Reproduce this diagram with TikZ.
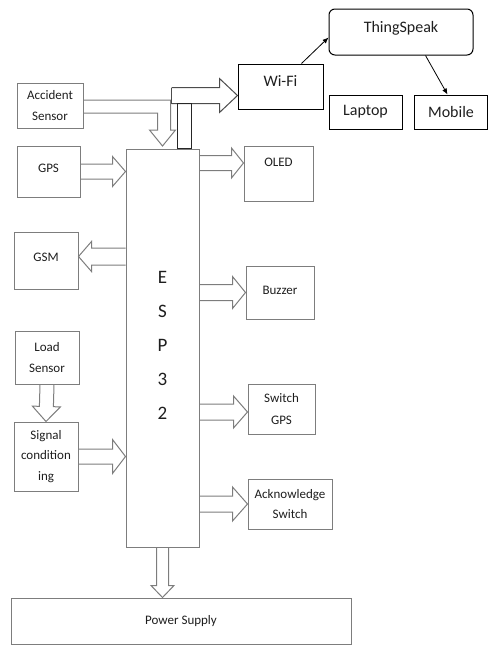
\documentclass[tikz,border=0pt]{standalone}
\usepackage{fontspec}
\setmainfont{Carlito}
\usetikzlibrary{calc,arrows.meta}
\definecolor{lg}{RGB}{125,125,125}
\definecolor{tx}{RGB}{30,30,30}
\newcommand\bw{7.5pt}
\newcommand\bh{15pt}
\newcommand\bl{13pt}
\tikzset{
  bsize/.code n args={3}{\def\bw{#1}\def\bh{#2}\def\bl{#3}},
  barrow/.style={to path={
    ($(\tikztostart)!\bw!90:(\tikztotarget)$)
    -- ($(\tikztotarget)!\bl!(\tikztostart)!\bw!-90:(\tikztostart)$)
    -- ($(\tikztotarget)!\bl!(\tikztostart)!\bh!-90:(\tikztostart)$)
    -- (\tikztotarget)
    -- ($(\tikztotarget)!\bl!(\tikztostart)!\bh!90:(\tikztostart)$)
    -- ($(\tikztotarget)!\bl!(\tikztostart)!\bw!90:(\tikztostart)$)
    -- ($(\tikztostart)!\bw!-90:(\tikztotarget)$)
  }},
  gbox/.style={draw=lg, line width=1pt, text=tx, inner sep=0pt, align=center,
    font=\fontsize{13}{21}\selectfont},
  kbox/.style={draw=black, line width=1pt, text=tx, inner sep=0pt, align=center,
    font=\fontsize{16}{20}\selectfont},
  blk/.style={draw=lg, line width=1pt},
  wblk/.style={draw=black!70, line width=1pt},
  link/.style={draw=black, line width=0.8pt, -{Latex[length=6pt,width=5pt]}}
}
\begin{document}
\begin{tikzpicture}[x=1pt,y=-1pt]
\useasboundingbox (0,0) rectangle (489,645);

% top-right boxes
\node[kbox, rounded corners=6pt, minimum width=144pt, minimum height=46pt,
      text height=8pt, text depth=8pt] (ts) at (401,32) {ThingSpeak};
\node[kbox, minimum width=85pt, minimum height=45pt,
      text height=8pt, text depth=8pt] (wifi) at (280.5,86.5) {Wi-Fi};
\node[kbox, minimum width=73pt, minimum height=34pt] (laptop) at (365.5,112) {Laptop};
\node[kbox, minimum width=73pt, minimum height=34pt] (mobile) at (451,112) {Mobile};

% left boxes
\node[gbox, minimum width=66pt, minimum height=45pt] (acc) at (50,105.5) {Accident\\Sensor};
\node[gbox, minimum width=63pt, minimum height=51pt, text height=8.4pt, text depth=7pt] (gps) at (48.5,171.5) {GPS};
\node[gbox, minimum width=64pt, minimum height=57pt, text height=8.4pt, text depth=7pt] (gsm) at (46,260.5) {GSM};
\node[gbox, minimum width=64pt, minimum height=53pt] (load) at (47,357.5) {Load\\Sensor};
\node[gbox, minimum width=64pt, minimum height=69pt, font=\fontsize{13}{20.5}\selectfont] (sig) at (46,456.5) {Signal\\condition\\ing};

% ESP32
\node[gbox, minimum width=73pt, minimum height=398pt, font=\fontsize{19}{34}\selectfont,
      text depth=6pt] (esp) at (162.5,348) {E\\S\\P\\3\\2};

% right boxes
\node[gbox, minimum width=69pt, minimum height=55pt, text height=8.5pt, text depth=23pt] (oled) at (278.5,173.5) {OLED};
\node[gbox, minimum width=68pt, minimum height=53pt, text height=8.5pt, text depth=5pt] (buzzer) at (280,292.5) {Buzzer};
\node[gbox, minimum width=67pt, minimum height=50pt, font=\fontsize{13}{22}\selectfont] (swgps) at (281.5,409) {Switch\\GPS};
\node[gbox, minimum width=84pt, minimum height=50pt, font=\fontsize{13}{20}\selectfont] (ack) at (290,504) {Acknowledge\\Switch};

% power
\node[gbox, minimum width=340pt, minimum height=46pt] (power) at (181,621) {Power Supply};

% thin links
\draw[link] ($(wifi.north east)+(-22,0)$) -- ($(ts.south west)+(0,-18)$);
\draw[link] ($(ts.south east)+(-48,0)$) -- ($(mobile.north west)+(33.5,0)$);

% accident sensor bent block arrow
\draw[blk] ($(acc.east)+(0,-5.5)$) -- ++(87,0) -- ++(0,30) -- ++(5,0) -- ++(-13,16)
  -- ++(-13,-16) -- ++(8,0) -- ++(0,-17) -- ++(-74,0);

% wifi connection
\coordinate (wst) at ($(esp.north west)+(46,-53)$);
\draw[wblk, barrow, bsize={8pt}{17pt}{18pt}] (wst) to (wifi.west |- wst);
\draw[wblk] ($(wst)+(0,-8)$) -- ($(wst)+(0,8)$);
\draw[draw=black!85, line width=1pt] ($(esp.north west)+(52,0)$) rectangle ($(esp.north west)+(66,-45)$);

% left block arrows
\draw[blk, barrow] (gps.east) to (esp.west |- gps.east);
\coordinate (gsmin) at ($(gsm.east)+(0,-4)$);
\draw[blk, barrow, bsize={8.5pt}{15pt}{13pt}] (esp.west |- gsmin) to (gsmin);
\draw[blk, barrow, bsize={7pt}{14pt}{15pt}] (load.south) to (sig.north);
\draw[blk, barrow, bsize={7.5pt}{17pt}{13pt}] (sig.east) to (esp.west |- sig.east);

% right block arrows
\coordinate (oledin) at ($(oled.west)+(0,-10.5)$);
\draw[blk, barrow, bsize={7.5pt}{15pt}{12pt}] (esp.east |- oledin) to (oledin);
\draw[blk, barrow, bsize={8pt}{16pt}{13pt}] (esp.east |- buzzer.west) to (buzzer.west);
\coordinate (swin) at ($(swgps.west)+(0,3)$);
\draw[blk, barrow, bsize={8pt}{16pt}{14pt}] (esp.east |- swin) to (swin);
\draw[blk, barrow, bsize={8pt}{17pt}{15pt}] (esp.east |- ack.west) to (ack.west);

% power arrow
\draw[blk, barrow, bsize={6pt}{11.5pt}{12pt}] (esp.south) to (esp.south |- power.north);
\end{tikzpicture}
\end{document}
